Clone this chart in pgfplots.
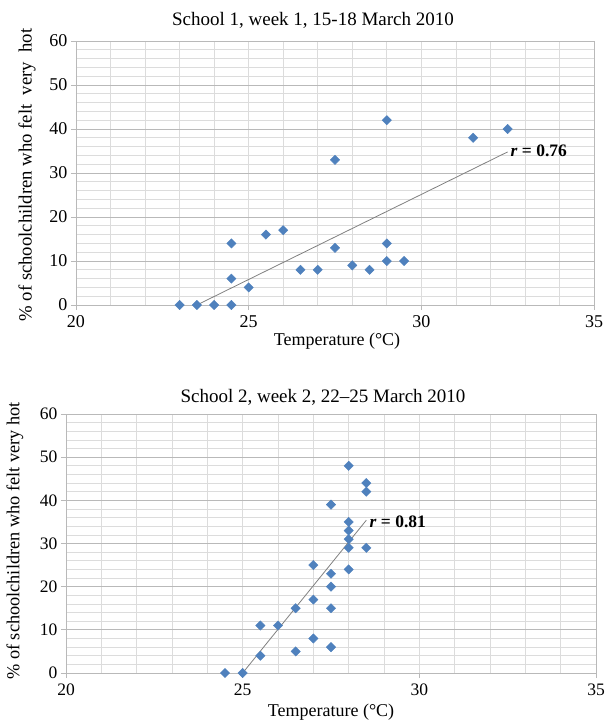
\documentclass[border=0pt]{standalone}
\usepackage{fontspec}
\setmainfont{Liberation Serif}
\usepackage{pgfplots}
\pgfplotsset{compat=1.18}
\definecolor{mk}{RGB}{79,129,189}
\definecolor{gmaj}{RGB}{185,185,185}
\definecolor{gmin}{RGB}{220,220,220}
\definecolor{fitc}{RGB}{128,128,128}
\pgfplotsset{heat/.style={
  scale only axis, anchor=south west,
  xmin=20,xmax=35,ymin=0,ymax=60,
  xtick={20,25,30,35}, ytick={0,10,...,60},
  xticklabels={20,25,30,35}, yticklabels={0,10,20,30,40,50,60},
  minor xtick={21,...,34}, minor ytick={2,4,...,58},
  xmajorgrids=false, xminorgrids=true, ymajorgrids=true, yminorgrids=true,
  major grid style={gmaj,line width=0.9pt},
  minor grid style={gmin,line width=0.7pt},
  axis line style={gmaj,line width=0.9pt},
  tick align=outside, major tick length=5pt, minor tick length=0pt,
  tick style={gmaj,line width=0.9pt},
  xtick pos=bottom, ytick pos=left,
  xticklabel style={yshift=-2pt},
  clip=false,
}}
\begin{document}
\begin{tikzpicture}
\useasboundingbox (0,0) rectangle (605pt,-724pt);
% ---------- top ----------
\begin{axis}[heat, at={(76pt,-305pt)}, width=518pt, height=264pt,
  tick label style={font=\rmfamily\fontsize{18}{18}\selectfont}]
\addplot[only marks, mark=square*, mark size=3.3pt, mark options={rotate=45, fill=mk, draw=mk}] table {
x y
23.0 0
23.5 0
24.0 0
24.5 0
24.5 6
24.5 14
25.0 4
25.5 16
26.0 17
26.5 8
27.0 8
27.5 33
27.5 13
28.0 9
28.5 8
29.0 42
29.0 14
29.0 10
29.5 10
31.5 38
32.5 40
};
\addplot[fitc, line width=0.8pt] coordinates {(23.5,0) (32.5,34.8)};
\node[anchor=west, inner sep=1pt, font=\fontsize{17.5}{17.5}\selectfont\bfseries] at (axis cs:32.55,35.1) {\textit{r} = 0.76};
\end{axis}
% ---------- bottom ----------
\begin{axis}[heat, at={(66pt,-673pt)}, width=530pt, height=259pt,
  tick label style={font=\rmfamily\fontsize{17.5}{17.5}\selectfont}]
\addplot[only marks, mark=square*, mark size=3.3pt, mark options={rotate=45, fill=mk, draw=mk}] table {
x y
24.5 0
25.0 0
25.5 4
25.5 11
26.0 11
26.5 5
26.5 15
27.0 25
27.0 17
27.0 8
27.5 39
27.5 23
27.5 20
27.5 15
27.5 6
28.0 48
28.0 35
28.0 33
28.0 31
28.0 29
28.0 24
28.5 44
28.5 42
28.5 29
};
\addplot[fitc, line width=0.8pt] coordinates {(25.0,0) (28.5,35.4)};
\node[anchor=west, inner sep=1pt, font=\fontsize{17.5}{17.5}\selectfont\bfseries] at (axis cs:28.56,35) {\textit{r} = 0.81};
\end{axis}
% ---------- texts ----------
\node[font=\fontsize{19}{19}\selectfont] at (313pt,-20pt) {School 1, week 1, 15-18 March 2010};
\node[font=\fontsize{19}{19}\selectfont] at (323pt,-397pt) {School 2, week 2, 22–25 March 2010};
\node[rotate=90, font=\fontsize{18.7}{18.7}\selectfont] at (27pt,-175pt) {\% of schoolchildren who felt\ \ very\ \ hot};
\node[rotate=90, font=\fontsize{18.3}{18.3}\selectfont] at (15pt,-541pt) {\% of schoolchildren who felt very hot};
\node[font=\fontsize{18}{18}\selectfont] at (337pt,-341pt) {Temperature (°C)};
\node[font=\fontsize{18}{18}\selectfont] at (331pt,-712pt) {Temperature (°C)};
\end{tikzpicture}
\end{document}
